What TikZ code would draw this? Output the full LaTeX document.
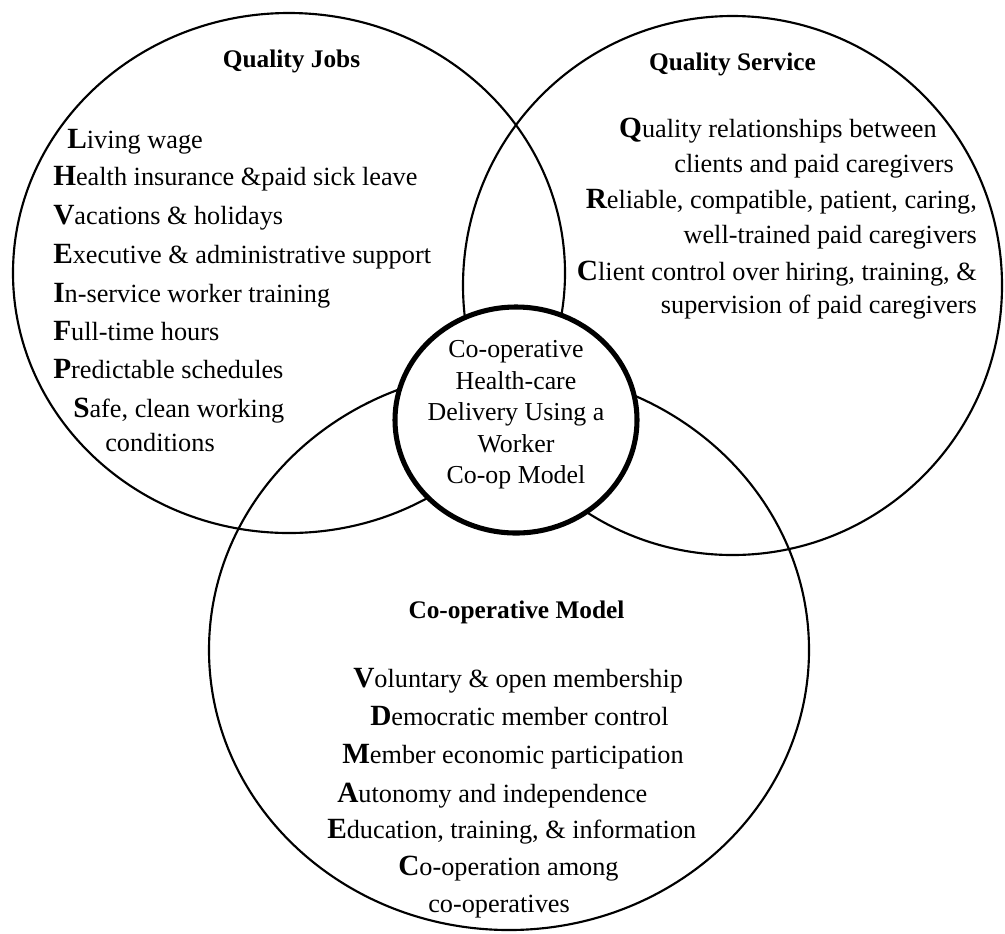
\documentclass[tikz,border=0pt]{standalone}
\usepackage{fontspec}
\setmainfont{Liberation Serif}
\usepackage{tikz}

\tikzset{
  ring/.style={line width=1.6pt},
  hubring/.style={line width=3.8pt, fill=white},
  head/.style={anchor=base, inner sep=0pt, font=\fontsize{19}{23}\selectfont\bfseries},
  item/.style={anchor=base west, inner sep=0pt, font=\fontsize{19.7}{24}\selectfont},
  itemr/.style={anchor=base east, inner sep=0pt, font=\fontsize{19.7}{24}\selectfont},
  hubtext/.style={align=center, inner sep=0pt, font=\fontsize{19.4}{23.6}\selectfont},
}
\newcommand{\ini}[1]{{\fontsize{22}{24}\selectfont\bfseries #1}}

\begin{document}
\begin{tikzpicture}[x=0.75pt,y=0.75pt,yscale=-1,xscale=1]
\useasboundingbox (0,0) rectangle (1005,933);

%Shape: Ellipse [Quality Jobs]
\draw [ring] (289,273) ellipse (276 and 260);
%Shape: Circle [Quality Service]
\draw [ring] (732.5,285.5) circle (269.5);
%Shape: Ellipse [Co-operative Model]
\draw [ring] (509,650) ellipse (300 and 280);
%Shape: Ellipse [centre]
\draw [hubring] (516,420) ellipse (121 and 113);

% Text Node
\node [hubtext] (hub) at (516,415) {Co-operative\\Health-care\\Delivery Using a\\Worker\\Co-op Model};

% Text Node
\node [head] (jobsTitle) at (291.5,67) {Quality Jobs};
% Text Node
\node [item] (jobs1) at (67,148) {\ini{L}iving wage};
\node [item] (jobs2) at (53,185) {\ini{H}ealth insurance \&paid sick leave};
\node [item] (jobs3) at (53,224) {\ini{V}acations \& holidays};
\node [item] (jobs4) at (53,263) {\ini{E}xecutive \& administrative support};
\node [item] (jobs5) at (53,302) {\ini{I}n-service worker training};
\node [item] (jobs6) at (53,340) {\ini{F}ull-time hours};
\node [item] (jobs7) at (53,378) {\ini{P}redictable schedules};
\node [item] (jobs8) at (73,417) {\ini{S}afe, clean working};
\node [item] (jobs9) at (105,451) {conditions};

% Text Node
\node [head] (svcTitle) at (732.5,70) {Quality Service};
% Text Node
\node [itemr] (svc1) at (937,137) {\ini{Q}uality relationships between};
\node [itemr] (svc2) at (954,172) {clients and paid caregivers};
\node [itemr] (svc3) at (977,208) {\ini{R}eliable, compatible, patient, caring,};
\node [itemr] (svc4) at (977,243) {well-trained paid caregivers};
\node [itemr] (svc5) at (977,280) {\ini{C}lient control over hiring, training, \&};
\node [itemr] (svc6) at (977,313) {supervision of paid caregivers};

% Text Node
\node [head] (mdlTitle) at (516.5,618) {Co-operative Model};
% Text Node
\node [item] (mdl1) at (353,687) {\ini{V}oluntary \& open membership};
\node [item] (mdl2) at (370,725) {\ini{D}emocratic member control};
\node [item] (mdl3) at (342,763) {\ini{M}ember economic participation};
\node [item] (mdl4) at (337,802) {\ini{A}utonomy and independence};
\node [item] (mdl5) at (327,838) {\ini{E}ducation, training, \& information};
\node [item] (mdl6) at (398,875) {\ini{C}o-operation among};
\node [item] (mdl7) at (428,912) {co-operatives};

\end{tikzpicture}
\end{document}
